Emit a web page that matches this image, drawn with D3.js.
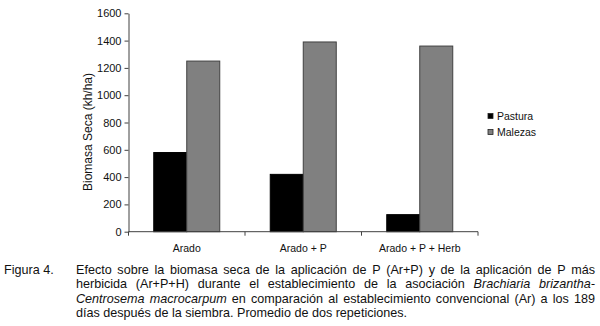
<!DOCTYPE html>
<html>
<head>
<meta charset="utf-8">
<script src="https://cdn.jsdelivr.net/npm/d3@7"></script>
<style>
  html, body { margin: 0; padding: 0; background: #fff; }
  svg { display: block; font-family: "Liberation Sans", Arial, sans-serif; }
</style>
</head>
<body>
<svg id="chart" width="600" height="326"></svg>
<script>
const categories = ["Arado", "Arado + P", "Arado + P + Herb"];
const seriesNames = ["Pastura", "Malezas"];
const pastura = [580, 420, 125];
const malezas = [1250, 1390, 1360];
const yTicks = [0, 200, 400, 600, 800, 1000, 1200, 1400, 1600];
const seriesColors = ["#000000", "#808080"];
const yTitle = "Biomasa Seca (kh/ha)";
const figLabel = "Figura 4.";
const captionLines = [
  [{t: "Efecto sobre la biomasa seca de la aplicación de P (Ar+P) y de la aplicación de P más", i: false}],
  [{t: "herbicida (Ar+P+H) durante el establecimiento de la asociación", i: false}, {t: "Brachiaria brizantha-", i: true}],
  [{t: "Centrosema macrocarpum", i: true}, {t: "en comparación al establecimiento convencional (Ar) a los 189", i: false}],
  [{t: "días después de la siembra. Promedio de dos repeticiones.", i: false}]
];

const svg = d3.select("#chart");
const plotLeft = 128.5, plotRight = 478, plotTop = 13.3, plotBottom = 231.7;

const x = d3.scaleBand().domain(categories).range([plotLeft, plotRight]).padding(0);
const xs = d3.scaleBand().domain(seriesNames).range([0, x.bandwidth()]).paddingInner(0).paddingOuter(0.765);
const y = d3.scaleLinear().domain([0, 1600]).range([plotBottom, plotTop]);

const data = categories.map((c, i) => ({cat: c, values: [pastura[i], malezas[i]]}));

// bars
const g = svg.append("g");
data.forEach(d => {
  d.values.forEach((v, j) => {
    g.append("rect")
      .attr("x", x(d.cat) + xs(seriesNames[j]))
      .attr("y", y(v))
      .attr("width", xs.bandwidth())
      .attr("height", y(0) - y(v))
      .attr("fill", seriesColors[j])
      .attr("stroke", j === 0 ? "#000" : "#404040")
      .attr("stroke-width", 1);
  });
});

// y axis
const yAxis = svg.append("g")
  .attr("transform", `translate(${plotLeft},0)`)
  .call(d3.axisLeft(y).tickValues(yTicks).tickFormat(d3.format("d")).tickSize(4).tickPadding(3).tickSizeOuter(0));
yAxis.select(".domain").attr("stroke", "#404040");
yAxis.selectAll(".tick line").attr("stroke", "#404040");
yAxis.selectAll(".tick text").attr("font-size", "11px").attr("fill", "#111")
  .attr("font-family", "Liberation Sans, Arial, sans-serif");

// x axis line & boundary ticks
const xAxis = svg.append("g");
xAxis.append("line").attr("x1", plotLeft).attr("x2", plotRight).attr("y1", y(0)).attr("y2", y(0))
  .attr("stroke", "#404040");
const bounds = categories.map(c => x(c)).concat([x.range()[1]]);
xAxis.selectAll(".bt").data(bounds).enter().append("line")
  .attr("x1", d => d).attr("x2", d => d)
  .attr("y1", y(0)).attr("y2", y(0) + 4).attr("stroke", "#404040");
xAxis.selectAll(".cl").data(categories).enter().append("text")
  .attr("x", d => x(d) + x.bandwidth() / 2)
  .attr("y", 251.5)
  .attr("text-anchor", "middle")
  .attr("font-size", "10.5px").attr("fill", "#111")
  .text(d => d);

// y title
svg.append("text")
  .attr("transform", `translate(92,132) rotate(-90)`)
  .attr("text-anchor", "middle")
  .attr("font-size", "12px").attr("fill", "#111")
  .text(yTitle);

// legend
const legend = svg.append("g");
seriesNames.forEach((s, j) => {
  const ly = 116 + j * 16;
  legend.append("rect").attr("x", 488).attr("y", ly - 2.5).attr("width", 5).attr("height", 5)
    .attr("fill", seriesColors[j]).attr("stroke", "#222").attr("stroke-width", 0.8);
  legend.append("text").attr("x", 497).attr("y", ly + 3.5)
    .attr("font-size", "10.5px").attr("fill", "#111").text(s);
});

// caption
const capFont = 12.6;
const capLeft = 76, capRight = 595;
const baselines = [273.5, 288, 302.5, 317];
svg.append("text").attr("x", 4).attr("y", baselines[0]).attr("font-size", capFont + "px")
  .attr("fill", "#111").text(figLabel);

const meas = svg.append("text").attr("font-size", capFont + "px").attr("visibility", "hidden");
function measure(word, italic) {
  meas.attr("font-style", italic ? "italic" : "normal").text(word);
  return meas.node().getComputedTextLength();
}
captionLines.forEach((segs, li) => {
  const words = [];
  segs.forEach(s => s.t.split(" ").forEach(w => words.push({w, i: s.i})));
  words.forEach(o => o.len = measure(o.w, o.i));
  const total = d3.sum(words, o => o.len);
  const spaceNat = measure("a a", false) - 2 * measure("a", false);
  const justify = li < captionLines.length - 1;
  let gap = justify ? (capRight - capLeft - total) / (words.length - 1) : spaceNat;
  let squeeze = 1;
  if (gap < 1.5) {
    gap = 1.5;
    squeeze = (capRight - capLeft - gap * (words.length - 1)) / total;
  }
  let cx = capLeft;
  words.forEach(o => {
    const t = svg.append("text").attr("x", cx).attr("y", baselines[li])
      .attr("font-size", capFont + "px").attr("fill", "#111")
      .attr("font-style", o.i ? "italic" : "normal")
      .text(o.w);
    if (squeeze < 1) t.attr("textLength", o.len * squeeze).attr("lengthAdjust", "spacingAndGlyphs");
    cx += o.len * squeeze + gap;
  });
});
meas.remove();
</script>
</body>
</html>
